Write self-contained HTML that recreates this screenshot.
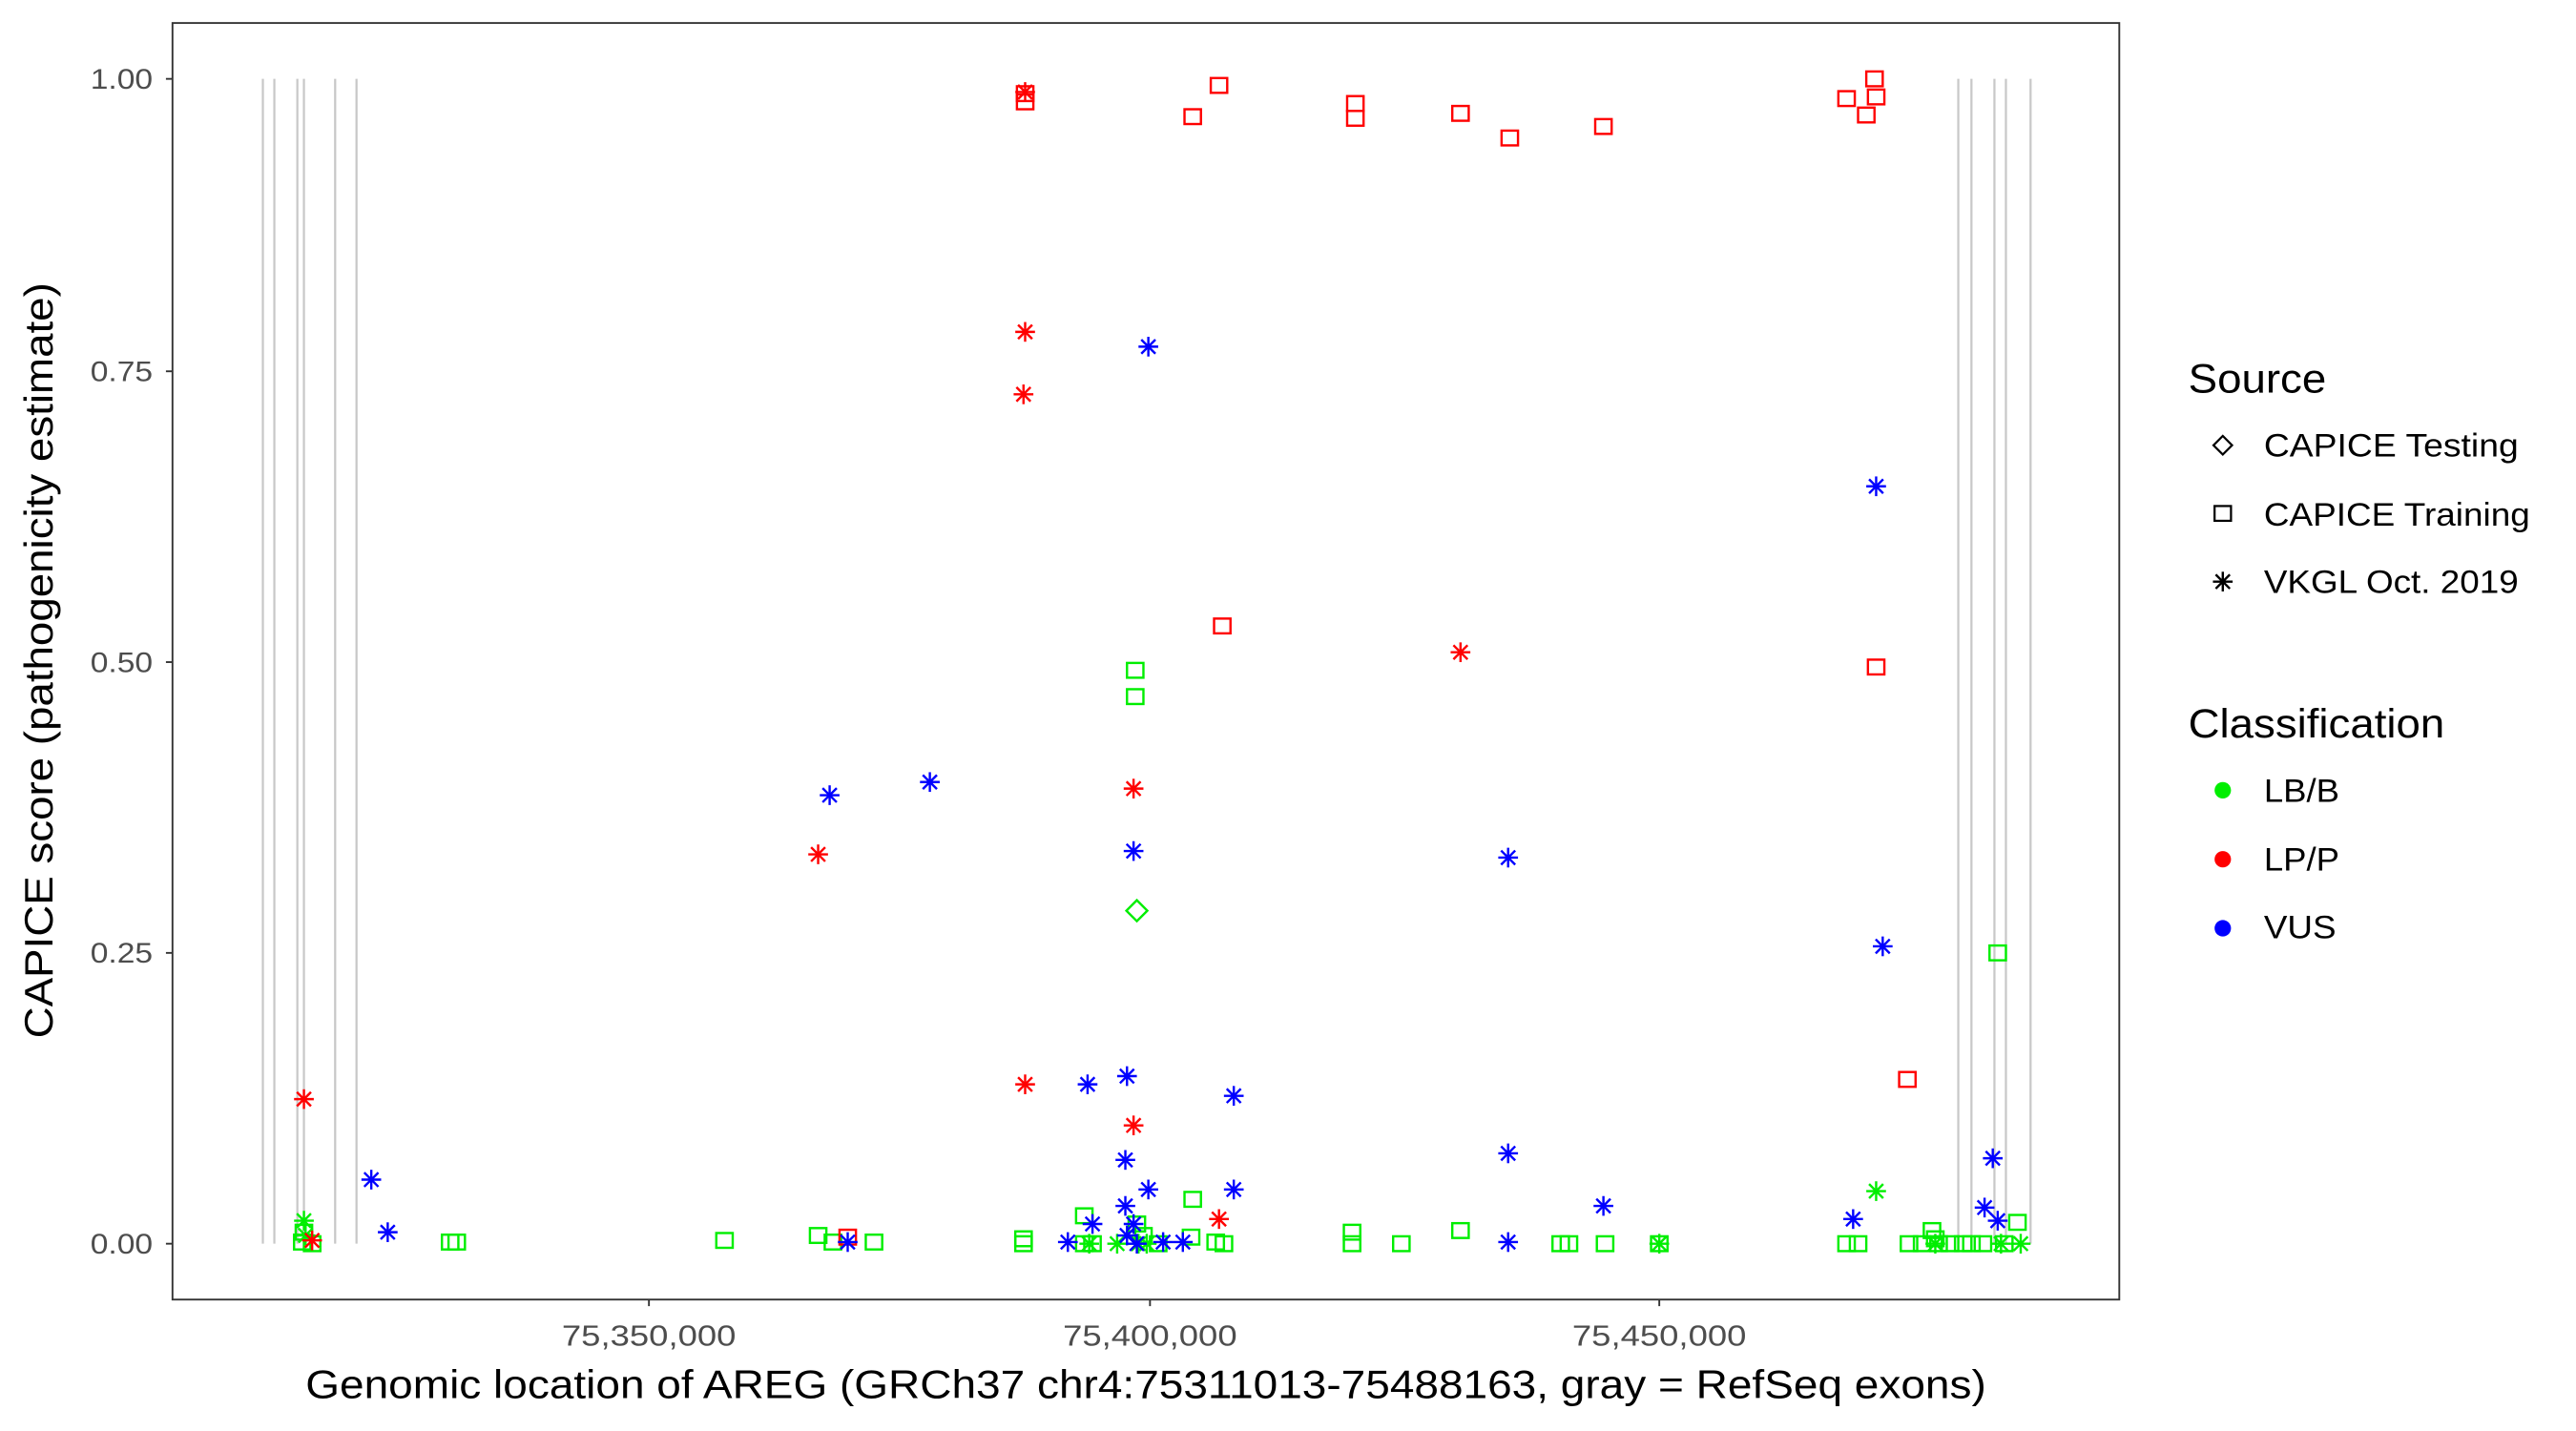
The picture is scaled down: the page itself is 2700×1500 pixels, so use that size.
<!DOCTYPE html>
<html><head><meta charset="utf-8"><style>html,body{margin:0;padding:0;background:#fff}svg{display:block}</style></head><body>
<svg width="2700" height="1500" viewBox="0 0 1568 871" preserveAspectRatio="none" xmlns="http://www.w3.org/2000/svg" font-family="Liberation Sans, sans-serif">
<defs>
<g id="sq"><rect x="-5" y="-4.5" width="10" height="9" fill="none" stroke-width="1.4"/></g>
<g id="st" stroke-width="1.4"><line x1="-6" y1="0" x2="6" y2="0"/><line x1="0" y1="-6" x2="0" y2="6"/><line x1="-4.3" y1="-4.3" x2="4.3" y2="4.3"/><line x1="-4.3" y1="4.3" x2="4.3" y2="-4.3"/></g>
</defs>
<rect x="105" y="14" width="1185" height="777" fill="#fff" stroke="#333" stroke-width="1.1"/>
<g stroke="#c8c8c8" stroke-width="1.3">
<line x1="160" y1="48" x2="160" y2="757"/><line x1="167" y1="48" x2="167" y2="757"/><line x1="181" y1="48" x2="181" y2="757"/><line x1="185" y1="48" x2="185" y2="757"/><line x1="204" y1="48" x2="204" y2="757"/><line x1="217" y1="48" x2="217" y2="757"/>
<line x1="1192" y1="48" x2="1192" y2="757"/><line x1="1200" y1="48" x2="1200" y2="757"/><line x1="1214" y1="48" x2="1214" y2="757"/><line x1="1221" y1="48" x2="1221" y2="757"/><line x1="1236" y1="48" x2="1236" y2="757"/>
</g>
<g stroke="#333" stroke-width="1.1">
<line x1="101" y1="48" x2="105" y2="48"/><line x1="101" y1="226" x2="105" y2="226"/><line x1="101" y1="403" x2="105" y2="403"/><line x1="101" y1="580" x2="105" y2="580"/><line x1="101" y1="757" x2="105" y2="757"/>
<line x1="395" y1="791" x2="395" y2="795"/><line x1="700" y1="791" x2="700" y2="795"/><line x1="1010" y1="791" x2="1010" y2="795"/>
</g>
<g font-size="17" fill="#4d4d4d" text-anchor="end">
<text x="93" y="54" textLength="38" lengthAdjust="spacingAndGlyphs">1.00</text><text x="93" y="232" textLength="38" lengthAdjust="spacingAndGlyphs">0.75</text><text x="93" y="409" textLength="38" lengthAdjust="spacingAndGlyphs">0.50</text><text x="93" y="586" textLength="38" lengthAdjust="spacingAndGlyphs">0.25</text><text x="93" y="763" textLength="38" lengthAdjust="spacingAndGlyphs">0.00</text>
</g>
<g font-size="18" fill="#4d4d4d">
<text x="342" y="819" textLength="106" lengthAdjust="spacingAndGlyphs">75,350,000</text><text x="647" y="819" textLength="106" lengthAdjust="spacingAndGlyphs">75,400,000</text><text x="957" y="819" textLength="106" lengthAdjust="spacingAndGlyphs">75,450,000</text>
</g>
<text x="186" y="851" font-size="24" textLength="1023" lengthAdjust="spacingAndGlyphs">Genomic location of AREG (GRCh37 chr4:75311013-75488163, gray = RefSeq exons)</text>
<text transform="translate(32,632) rotate(-90)" font-size="24" textLength="460" lengthAdjust="spacingAndGlyphs">CAPICE score (pathogenicity estimate)</text>
<g stroke="#00ee00">
<use href="#sq" x="691" y="408"/><use href="#sq" x="691" y="424"/><use href="#sq" x="1216" y="580"/><use href="#sq" x="660" y="740"/><use href="#sq" x="726" y="730"/><use href="#sq" x="823" y="750"/><use href="#sq" x="889" y="749"/><use href="#sq" x="1176" y="749"/><use href="#sq" x="1228" y="744"/><use href="#sq" x="274" y="756"/><use href="#sq" x="278" y="756"/><use href="#sq" x="441" y="755"/><use href="#sq" x="498" y="752"/><use href="#sq" x="507" y="756"/><use href="#sq" x="532" y="756"/><use href="#sq" x="623" y="754"/><use href="#sq" x="623" y="757"/><use href="#sq" x="740" y="756"/><use href="#sq" x="745" y="757"/><use href="#sq" x="823" y="757"/><use href="#sq" x="853" y="757"/><use href="#sq" x="950" y="757"/><use href="#sq" x="955" y="757"/><use href="#sq" x="977" y="757"/><use href="#sq" x="1010" y="757"/><use href="#sq" x="1124" y="757"/><use href="#sq" x="1131" y="757"/><use href="#sq" x="1162" y="757"/><use href="#sq" x="1170" y="757"/><use href="#sq" x="1180" y="757"/><use href="#sq" x="1187" y="757"/><use href="#sq" x="1195" y="757"/><use href="#sq" x="1200" y="757"/><use href="#sq" x="1207" y="757"/><use href="#sq" x="1220" y="757"/><use href="#sq" x="185" y="750"/><use href="#sq" x="184" y="756"/><use href="#sq" x="190" y="757"/><use href="#sq" x="705" y="757"/><use href="#sq" x="725" y="753"/><use href="#sq" x="692" y="745"/><use href="#sq" x="696" y="752"/><use href="#sq" x="660" y="757"/><use href="#sq" x="665" y="757"/><use href="#sq" x="1178" y="754"/>
</g>
<g stroke="#00ee00">
<use href="#st" x="185" y="743"/><use href="#st" x="1142" y="725"/><use href="#st" x="186" y="752"/><use href="#st" x="680" y="757"/><use href="#st" x="693" y="757"/><use href="#st" x="1010" y="757"/><use href="#st" x="1178" y="757"/><use href="#st" x="1230" y="757"/><use href="#st" x="1218" y="757"/><use href="#st" x="663" y="757"/><use href="#st" x="698" y="757"/>
</g>
<rect x="687" y="550" width="9" height="9" transform="rotate(45 692 555)" fill="none" stroke="#00ee00" stroke-width="1.4"/>
<g stroke="#ff0000">
<use href="#sq" x="624" y="57"/><use href="#sq" x="624" y="62"/><use href="#sq" x="742" y="52"/><use href="#sq" x="726" y="71"/><use href="#sq" x="825" y="63"/><use href="#sq" x="825" y="72"/><use href="#sq" x="889" y="69"/><use href="#sq" x="919" y="84"/><use href="#sq" x="976" y="77"/><use href="#sq" x="1124" y="60"/><use href="#sq" x="1141" y="48"/><use href="#sq" x="1142" y="59"/><use href="#sq" x="1136" y="70"/><use href="#sq" x="744" y="381"/><use href="#sq" x="1142" y="406"/><use href="#sq" x="1161" y="657"/><use href="#sq" x="516" y="753"/>
<use href="#st" x="624" y="56"/><use href="#st" x="624" y="202"/><use href="#st" x="623" y="240"/><use href="#st" x="498" y="520"/><use href="#st" x="690" y="480"/><use href="#st" x="624" y="660"/><use href="#st" x="690" y="685"/><use href="#st" x="742" y="742"/><use href="#st" x="185" y="669"/><use href="#st" x="190" y="755"/><use href="#st" x="889" y="397"/>
</g>
<g stroke="#0000ff">
<use href="#st" x="699" y="211"/><use href="#st" x="1142" y="296"/><use href="#st" x="505" y="484"/><use href="#st" x="566" y="476"/><use href="#st" x="690" y="518"/><use href="#st" x="918" y="522"/><use href="#st" x="1146" y="576"/><use href="#st" x="662" y="660"/><use href="#st" x="686" y="655"/><use href="#st" x="751" y="667"/><use href="#st" x="226" y="718"/><use href="#st" x="236" y="750"/><use href="#st" x="685" y="706"/><use href="#st" x="1213" y="705"/><use href="#st" x="699" y="724"/><use href="#st" x="751" y="724"/><use href="#st" x="918" y="702"/><use href="#st" x="976" y="734"/><use href="#st" x="1128" y="742"/><use href="#st" x="1208" y="735"/><use href="#st" x="1216" y="743"/><use href="#st" x="685" y="734"/><use href="#st" x="665" y="745"/><use href="#st" x="516" y="756"/><use href="#st" x="650" y="756"/><use href="#st" x="708" y="756"/><use href="#st" x="720" y="756"/><use href="#st" x="918" y="756"/><use href="#st" x="690" y="745"/><use href="#st" x="686" y="752"/><use href="#st" x="692" y="757"/>
</g>
<text x="1332" y="239" font-size="25" textLength="84" lengthAdjust="spacingAndGlyphs">Source</text>
<rect x="1349" y="267" width="8" height="8" transform="rotate(45 1353 271)" fill="none" stroke="#000" stroke-width="1.3"/>
<rect x="1348" y="308" width="10" height="9" fill="none" stroke="#000" stroke-width="1.3"/>
<use href="#st" x="1353" y="354" stroke="#000"/>
<g font-size="20">
<text x="1378" y="278" textLength="155" lengthAdjust="spacingAndGlyphs">CAPICE Testing</text>
<text x="1378" y="320" textLength="162" lengthAdjust="spacingAndGlyphs">CAPICE Training</text>
<text x="1378" y="361" textLength="155" lengthAdjust="spacingAndGlyphs">VKGL Oct. 2019</text>
</g>
<text x="1332" y="449" font-size="25" textLength="156" lengthAdjust="spacingAndGlyphs">Classification</text>
<circle cx="1353" cy="481" r="5" fill="#00ee00"/><circle cx="1353" cy="523" r="5" fill="#ff0000"/><circle cx="1353" cy="565" r="5" fill="#0000ff"/>
<g font-size="20"><text x="1378" y="488" textLength="46" lengthAdjust="spacingAndGlyphs">LB/B</text><text x="1378" y="530" textLength="46" lengthAdjust="spacingAndGlyphs">LP/P</text><text x="1378" y="571" textLength="44" lengthAdjust="spacingAndGlyphs">VUS</text></g>
</svg>
</body></html>
